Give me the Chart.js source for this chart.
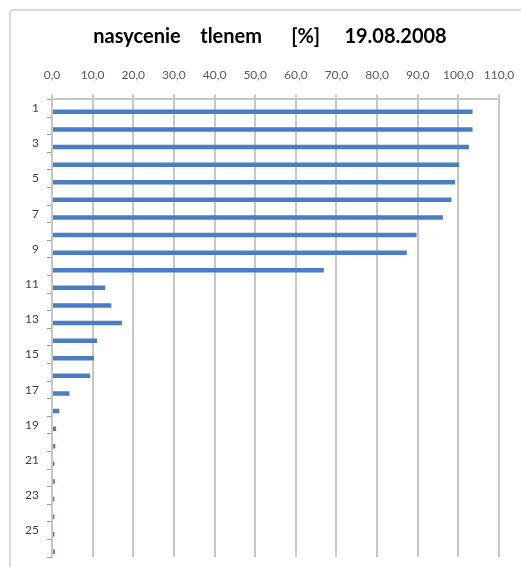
<!DOCTYPE html>
<html>
<head>
<meta charset="utf-8">
<script src="https://cdn.jsdelivr.net/npm/chart.js@4"></script>
<style>
  body { margin: 0; background: #fff; }
  #frame { position: absolute; left: 9px; top: 9px; width: 600px; height: 600px;
           border: 2px solid #d9d9d9; border-radius: 4px; }
  #wrap { position: absolute; left: 0; top: 0; width: 521px; height: 567px; }
</style>
</head>
<body>
<div id="frame"></div>
<div id="wrap"><canvas id="chart"></canvas></div>
<script>
// punkty pomiarowe 1..26
const labels = ["1","2","3","4","5","6","7","8","9","10","11","12","13",
                "14","15","16","17","18","19","20","21","22","23","24","25","26"];
// nasycenie tlenem [%]
const nasycenie = [103.5, 103.5, 102.6, 100.2, 99.2, 98.3, 96.2, 89.7, 87.3, 66.9,
                   13.1, 14.6, 17.2, 11.1, 10.3, 9.4, 4.3, 1.8, 1.0, 0.8,
                   0.6, 0.7, 0.6, 0.6, 0.6, 0.7];
const xTicks = [0, 10, 20, 30, 40, 50, 60, 70, 80, 90, 100, 110];

const font = "Lato, 'Open Sans', sans-serif";

new Chart("chart", {
  type: "bar",
  data: {
    labels: labels,
    datasets: [
      { label: "", data: [] },   // pusta seria (przesuwa słupki jak w Excelu)
      {
        label: "nasycenie",
        data: nasycenie,
        backgroundColor: "#4a7ec4",
        borderWidth: 0
      }
    ]
  },
  options: {
    indexAxis: "y",
    responsive: true,
    maintainAspectRatio: false,
    animation: false,
    datasets: { bar: { categoryPercentage: 0.83, barPercentage: 0.62 } },
    layout: { padding: { left: 25, right: 6, top: 15, bottom: 10 } },
    plugins: {
      legend: { display: false },
      tooltip: { enabled: false },
      title: {
        display: true,
        text: "nasycenie    tlenem      [%]     19.08.2008",
        color: "#000",
        font: { family: font, size: 20, weight: "bold" },
        padding: { top: 10, bottom: 7 }
      }
    },
    scales: {
      x: {
        position: "top",
        min: 0,
        max: 110,
        afterBuildTicks: (axis) => { axis.ticks = xTicks.map(v => ({ value: v })); },
        afterFit: (axis) => { axis.paddingLeft = 0; axis.paddingRight = 22; },
        ticks: {
          color: "#595959",
          font: { family: font, size: 12 },
          padding: 12,
          maxRotation: 0,
          callback: (v) => v.toFixed(1).replace(".", ",")
        },
        grid: { color: "#c6c6c6", lineWidth: 2, tickLength: 5 },
        border: { color: "#c6c6c6", width: 2 }
      },
      y: {
        afterFit: (axis) => { axis.paddingTop = 0; axis.paddingBottom = 0; axis.width = 27; },
        ticks: {
          color: "#404040",
          font: { family: font, size: 12 },
          padding: 8,
          autoSkip: false,
          callback: (v, i) => (i % 2 === 0 ? labels[i] : "")
        },
        grid: { drawOnChartArea: false, color: "#9a9a9a", tickLength: 5 },
        border: { color: "#c6c6c6", width: 2 }
      }
    }
  }
});
</script>
</body>
</html>
